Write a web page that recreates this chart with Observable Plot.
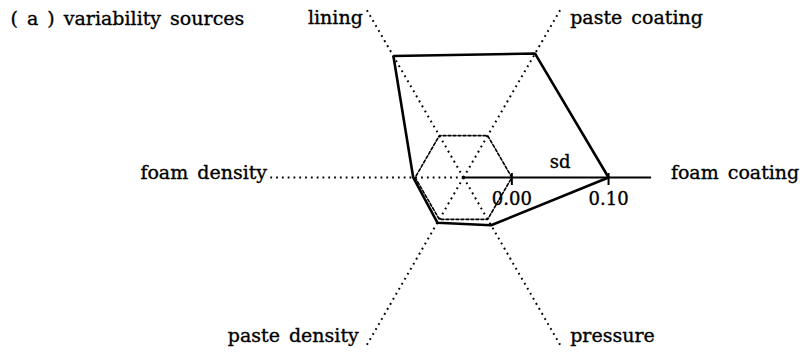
<!DOCTYPE html>
<html><head><meta charset="utf-8">
<script src="https://cdn.jsdelivr.net/npm/d3@7"></script>
<script src="https://cdn.jsdelivr.net/npm/@observablehq/plot@0.6"></script>
<style>body{margin:0;background:#fff} svg text{word-spacing:3px}</style>
</head><body><div id="chart"></div>
<script>
// ---- data ----
const variables = ["foam coating", "paste coating", "lining", "foam density", "paste density", "pressure"];
const anglesDeg = [0, 60, 120, 180, 240, 300];
const sdValues = [0.100, 0.098, 0.095, 0.002, 0.004, 0.007];
const refValue = 0.00;
const tickValues = [0.00, 0.10];
const tickLabels = ["0.00", "0.10"];
const axisMax = 0.15;
const centreValue = -0.05;
const title = "( a ) variability sources";
const seriesLabel = "sd";

// ---- geometry ----
const W = 806, H = 354, cx = 463, cy = 177, k = 967; // px per unit
const rad = d => d * Math.PI / 180;
const pol = (v, a) => ({x: (v - centreValue) * Math.cos(rad(a)), y: (v - centreValue) * Math.sin(rad(a))});

const axes = variables.map((name, i) => ({name, a: anglesDeg[i], ...pol(axisMax, anglesDeg[i])}));
const sdPoly = variables.map((name, i) => ({name, ...pol(sdValues[i], anglesDeg[i])}));
sdPoly.push(sdPoly[0]);
const refPoly = variables.map((name, i) => pol(refValue, anglesDeg[i]));
refPoly.push(refPoly[0]);
const ticks = tickValues.map((v, i) => ({label: tickLabels[i], ...pol(v, 0)}));

const labelOpts = {
  "foam coating":  {textAnchor: "start", dx: 14, dy: -5},
  "paste coating": {textAnchor: "start", dx: 10, dy: 8},
  "lining":        {textAnchor: "end", dx: -4, dy: 8},
  "foam density":  {textAnchor: "end", dx: -3, dy: -5},
  "paste density": {textAnchor: "end", dx: -8, dy: -9},
  "pressure":      {textAnchor: "start", dx: 10, dy: -9}
};
const ink = {fill: "#000", stroke: "#000", strokeWidth: 0.35};

const chart = Plot.plot({
  width: W, height: H,
  margin: 0,
  style: {fontFamily: "DejaVu Serif", fontSize: "19px", background: "#fff", color: "#000"},
  x: {domain: [-cx / k, (W - cx) / k], range: [0, W], axis: null},
  y: {domain: [-(H - cy) / k, cy / k], range: [H, 0], axis: null},
  marks: [
    Plot.link(axes.filter(d => d.a !== 0), {x1: 0, y1: 0, x2: "x", y2: "y", stroke: "#000", strokeWidth: 2, strokeDasharray: "1.8,4", strokeLinecap: "butt"}),
    Plot.link(axes.filter(d => d.a === 0), {x1: 0, y1: 0, x2: d => d.x * 0.97, y2: "y", stroke: "#000", strokeWidth: 2}),
    Plot.line(refPoly, {x: "x", y: "y", stroke: "#000", strokeWidth: 1.6, strokeDasharray: "3,2"}),
    Plot.line(sdPoly, {x: "x", y: "y", stroke: "#000", strokeWidth: 2.6, strokeLinejoin: "miter"}),
    Plot.ruleX(ticks, {x: "x", y1: 4 / k, y2: -8 / k, stroke: "#000", strokeWidth: 2}),
    Plot.text(ticks, {x: "x", y: "y", text: "label", dy: 22, fontSize: 18, ...ink}),
    Plot.text([seriesLabel], {x: pol(0.05, 0).x, y: 0, text: d => d, dy: -15, fontSize: 18, ...ink}),
    ...axes.map(d => Plot.text([d], {x: "x", y: "y", text: "name", ...labelOpts[d.name], ...ink})),
    Plot.text([title], {frameAnchor: "top-left", text: d => d, dx: 10, dy: 11, lineAnchor: "top", ...ink})
  ]
});
document.getElementById("chart").append(chart);
</script>
</body></html>
